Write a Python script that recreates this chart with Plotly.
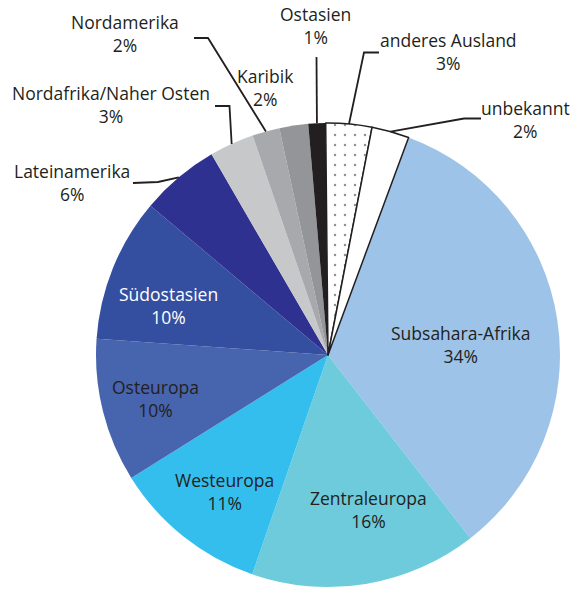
import math
import plotly.graph_objects as go

W, H = 572, 590

# Data (clockwise starting with Subsahara-Afrika)
regions = ["Subsahara-Afrika", "Zentraleuropa", "Westeuropa", "Osteuropa", "Südostasien",
           "Lateinamerika", "Nordafrika/Naher Osten", "Nordamerika", "Karibik", "Ostasien",
           "anderes Ausland", "unbekannt"]
shares = [33.8, 15.8, 10.8, 10.0, 10.0, 5.5, 3.1, 1.9, 2.0, 1.2, 3.2, 2.6]   # slice sizes
share_labels = ["34%", "16%", "11%", "10%", "10%", "6%", "3%", "2%", "2%", "1%", "3%", "2%"]

colors = ["#9DC3E8", "#6ECBDB", "#33BEEE", "#4764AE", "#344EA0", "#2E3190",
          "#C7C8CA", "#A7A9AC", "#939598", "#231F20", "#FFFFFF", "#FFFFFF"]
patterns = ["", "", "", "", "", "", "", "", "", "", ".", ""]
line_w = [0, 0, 0, 0, 0, 0, 0, 0, 0, 0, 1.5, 1.5]

START = 20.33          # degrees clockwise from 12 o'clock
CX, CY, R = 328, 355, 232
DARK = "#231F20"
FONT = "Open Sans"
FS = 17.5

def px(x, y):
    return x / W, 1 - y / H

fig = go.Figure(go.Pie(
    labels=regions, values=shares, sort=False, direction="clockwise",
    rotation=START, textinfo="none", hoverinfo="label+percent",
    marker=dict(colors=colors, line=dict(color=DARK, width=line_w),
                pattern=dict(shape=patterns, fgcolor=DARK, bgcolor="#FFFFFF",
                             size=10, solidity=0.05, fillmode="overlay")),
    domain=dict(x=[(CX - R) / W, (CX + R) / W], y=[1 - (CY + R) / H, 1 - (CY - R) / H]),
    showlegend=False,
))

# mid-angle of each slice on the rim
total = sum(shares)
edge = {}
acc = 0
for name, v in zip(regions, shares):
    a = math.radians(START + (acc + v / 2) / total * 360)
    edge[name] = (CX + R * math.sin(a), CY - R * math.cos(a))
    acc += v

# label positions (pixels) and text colour
label_pos = {
    "Subsahara-Afrika": (461, 344, DARK),
    "Zentraleuropa": (368, 509, DARK),
    "Westeuropa": (224, 491, DARK),
    "Osteuropa": (155, 398, DARK),
    "Südostasien": (168, 305, "#FFFFFF"),
    "Lateinamerika": (72, 182, DARK),
    "Nordafrika/Naher Osten": (111, 105, DARK),
    "Nordamerika": (125, 34, DARK),
    "Karibik": (265, 88, DARK),
    "Ostasien": (316, 26, DARK),
    "anderes Ausland": (448, 52, DARK),
    "unbekannt": (525, 119, DARK),
}
annotations = []
for name, lab in zip(regions, share_labels):
    x, y, c = label_pos[name]
    xp, yp = px(x, y)
    annotations.append(dict(x=xp, y=yp, xref="paper", yref="paper", showarrow=False,
                            xanchor="center", yanchor="middle",
                            text=f"{name}<br>{lab}", align="center",
                            font=dict(family=FONT, size=FS, color=c)))

# leader lines: elbow points (pixels) then to slice rim
leaders = {
    "Lateinamerika": [(133, 183), (158, 182)],
    "Nordafrika/Naher Osten": [(215, 106), (229.5, 106)],
    "Nordamerika": [(194, 38), (208, 38)],
    "Ostasien": [(316.5, 57)],
    "anderes Ausland": [(379, 52.5), (364, 52.5)],
    "unbekannt": [(481, 118.5), (464, 118.5)],
}
shapes = []
for name, pts in leaders.items():
    allp = pts + [edge[name]]
    d = ""
    for i, (x, y) in enumerate(allp):
        xp, yp = px(x, y)
        d += ("M" if i == 0 else " L") + f" {xp:.5f} {yp:.5f}"
    shapes.append(dict(type="path", path=d, xref="paper", yref="paper",
                       line=dict(color=DARK, width=1.8)))

fig.update_layout(width=W, height=H, margin=dict(l=0, r=0, t=0, b=0),
                  paper_bgcolor="white", plot_bgcolor="white",
                  annotations=annotations, shapes=shapes)
fig.write_html("out.html", config={"displayModeBar": False},
               post_script="document.body.style.margin='0';document.body.style.overflow='hidden';")
